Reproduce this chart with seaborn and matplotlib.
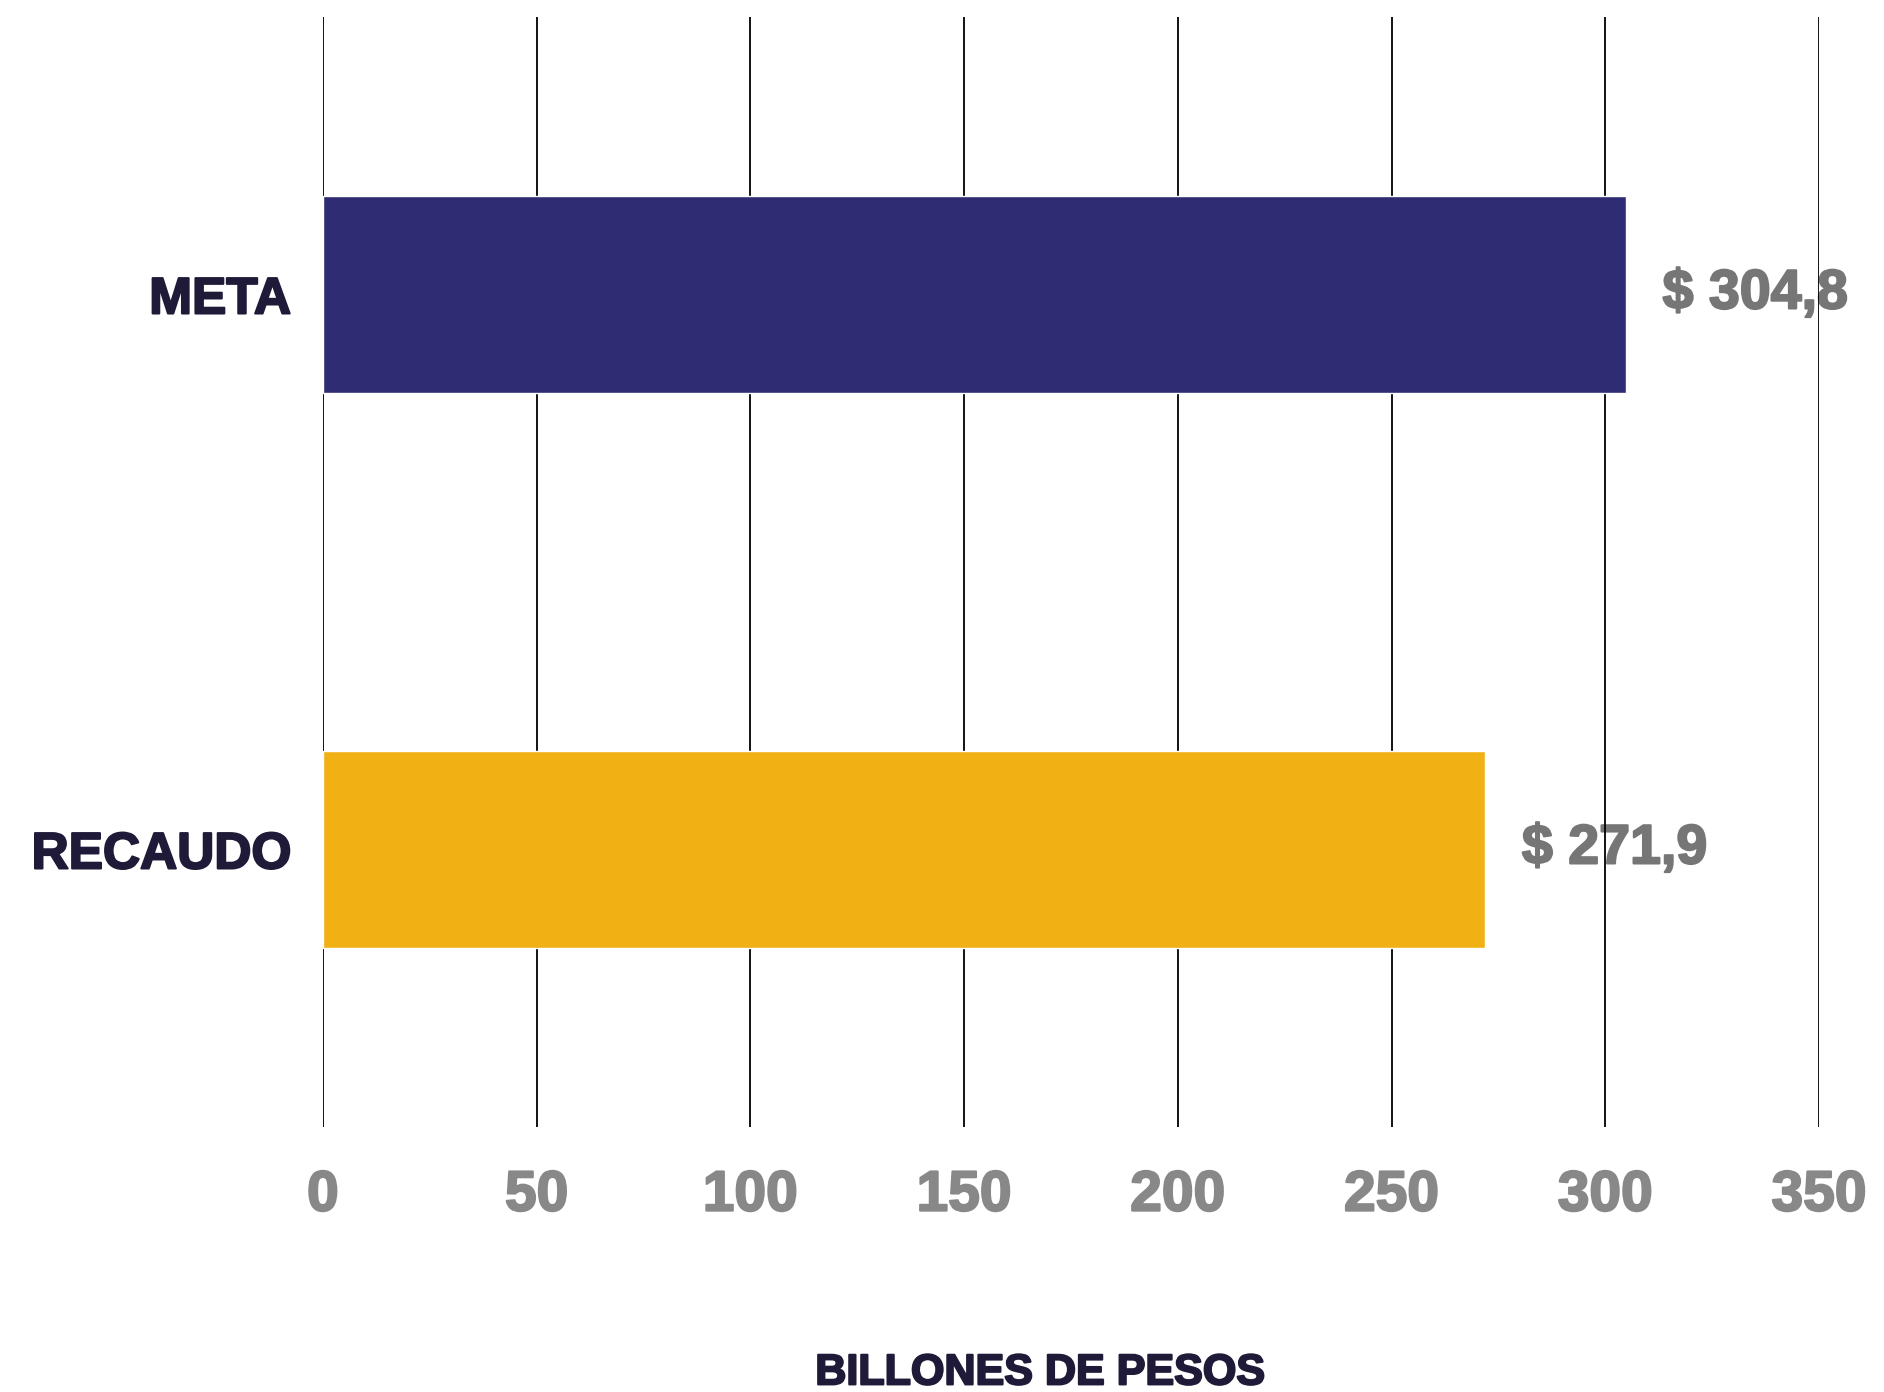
import pandas as pd
import seaborn as sns
import matplotlib.pyplot as plt
import matplotlib.patheffects as pe

# datos del grafico
categorias = ['META', 'RECAUDO']
valores = [304.8, 271.9]
etiquetas = ['$ 304,8', '$ 271,9']
colores = ['#2f2c73', '#f1b114']
ticks_x = [0, 50, 100, 150, 200, 250, 300, 350]

df = pd.DataFrame({'Categoria': categorias, 'Valor': valores})

sns.set_style('white')
plt.rcParams['font.family'] = ['Liberation Sans', 'DejaVu Sans']


def grueso(color):
    # engrosa el texto para parecerse a la fuente original
    return [pe.withStroke(linewidth=1.5, foreground=color)]


fig = plt.figure(figsize=(18.84, 13.92), dpi=100)
ax = fig.add_axes([0.1714, 0.1904, 0.7941, 0.7974])

sns.barplot(data=df, x='Valor', y='Categoria', hue='Categoria', palette=colores,
            orient='h', width=0.354, legend=False, saturation=1, ax=ax)

ax.set_xlim(0, 350)
ax.set_ylim(1.5, -0.5)
ax.set_xticks(ticks_x)
ax.set_xticklabels([str(t) for t in ticks_x], fontsize=41, fontweight='bold', color='#888888')
ax.set_yticks(range(len(categorias)))
ax.set_yticklabels(categorias, fontsize=37, fontweight='bold', color='#1e1a38')
for lbl in ax.get_xticklabels():
    lbl.set_path_effects(grueso('#888888'))
for lbl in ax.get_yticklabels():
    lbl.set_path_effects(grueso('#1e1a38'))
ax.tick_params(axis='x', length=0, pad=30)
ax.tick_params(axis='y', length=0, pad=23)

ax.xaxis.grid(True, color='black', linewidth=1.3)
ax.yaxis.grid(False)
ax.set_axisbelow(True)
for s in ax.spines.values():
    s.set_visible(False)

# etiquetas de valor
for i, (v, txt) in enumerate(zip(valores, etiquetas)):
    ax.text(v + 8.6, i, txt, va='center', ha='left', fontsize=40,
            fontweight='bold', color='#767676', zorder=0.3,
            path_effects=grueso('#767676'))

ax.set_ylabel('')
ax.set_xlabel('BILLONES DE PESOS', fontsize=31, fontweight='bold', color='#1e1a38',
              path_effects=grueso('#1e1a38'))
ax.xaxis.set_label_coords(0.479, -0.204)

fig.savefig('out.png', dpi=100)
